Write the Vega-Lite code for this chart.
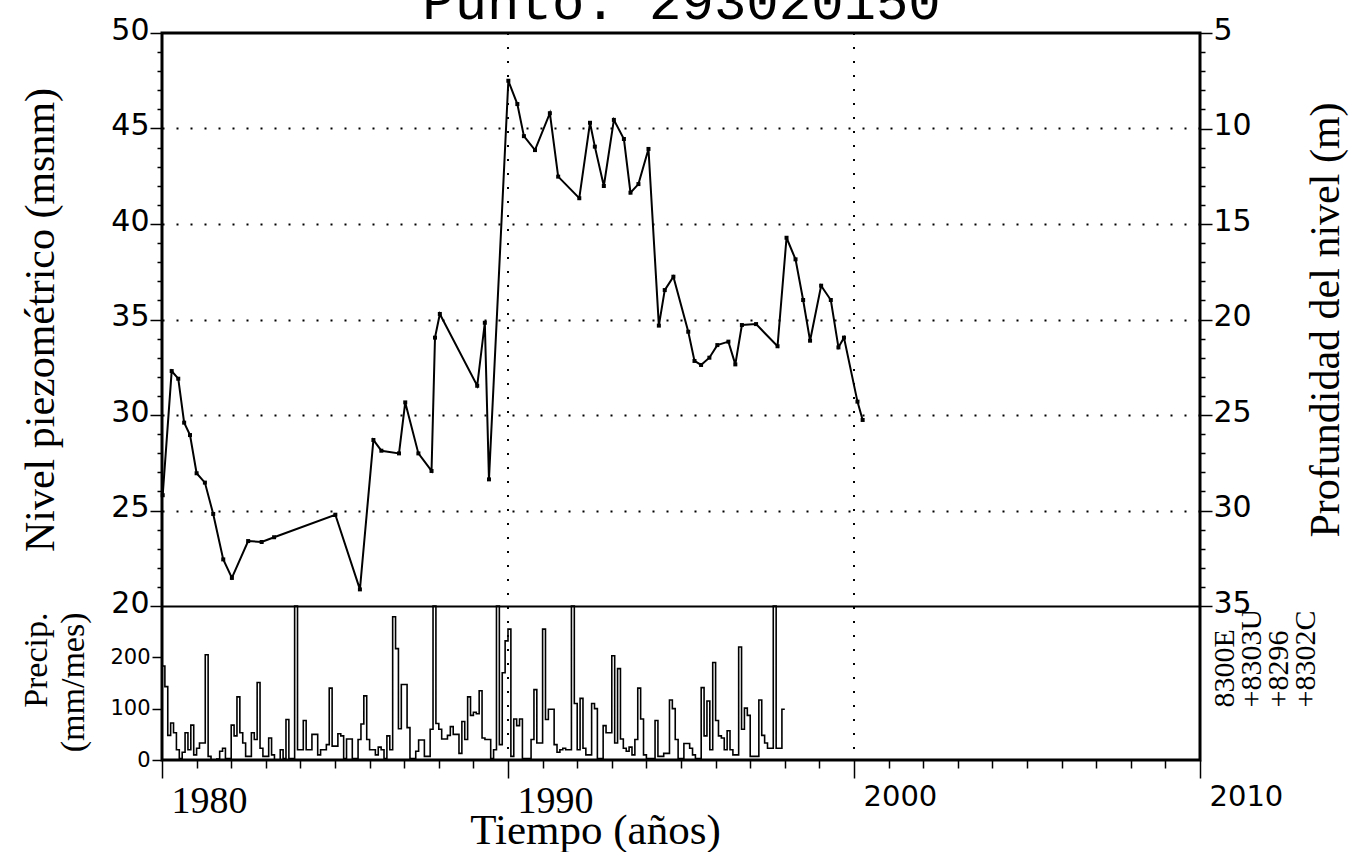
{
  "$schema": "https://vega.github.io/schema/vega-lite/v6.json",
  "width": 1038,
  "height": 727,
  "autosize": {"type": "none"},
  "padding": {"left": 162, "top": 33, "right": 152, "bottom": 92},
  "background": "white",
  "config": {
    "view": {"stroke": "black", "strokeWidth": 3},
    "axis": {"labelColor": "black", "titleColor": "black", "tickColor": "black", "tickWidth": 1.5, "titleFontWeight": "normal", "labelOverlap": false, "labelFlush": false, "domain": false}
  },
  "datasets": {
    "nivel": [
      {"t": 1980.02, "nivel": 25.8}, {"t": 1980.28, "nivel": 32.3}, {"t": 1980.47, "nivel": 31.9}, {"t": 1980.64, "nivel": 29.6},
      {"t": 1980.81, "nivel": 28.95}, {"t": 1981.0, "nivel": 26.95}, {"t": 1981.24, "nivel": 26.46}, {"t": 1981.48, "nivel": 24.82},
      {"t": 1981.77, "nivel": 22.44}, {"t": 1982.02, "nivel": 21.47}, {"t": 1982.49, "nivel": 23.4}, {"t": 1982.88, "nivel": 23.35},
      {"t": 1983.24, "nivel": 23.6}, {"t": 1985.01, "nivel": 24.78}, {"t": 1985.72, "nivel": 20.87}, {"t": 1986.11, "nivel": 28.69},
      {"t": 1986.34, "nivel": 28.13}, {"t": 1986.85, "nivel": 27.99}, {"t": 1987.03, "nivel": 30.66}, {"t": 1987.41, "nivel": 27.99},
      {"t": 1987.79, "nivel": 27.07}, {"t": 1987.89, "nivel": 34.05}, {"t": 1988.03, "nivel": 35.29}, {"t": 1989.11, "nivel": 31.53},
      {"t": 1989.33, "nivel": 34.83}, {"t": 1989.45, "nivel": 26.63}, {"t": 1990.01, "nivel": 47.5}, {"t": 1990.27, "nivel": 46.28},
      {"t": 1990.46, "nivel": 44.6}, {"t": 1990.78, "nivel": 43.87}, {"t": 1991.21, "nivel": 45.8}, {"t": 1991.45, "nivel": 42.48},
      {"t": 1992.06, "nivel": 41.35}, {"t": 1992.37, "nivel": 45.3}, {"t": 1992.51, "nivel": 44.05}, {"t": 1992.77, "nivel": 41.99},
      {"t": 1993.06, "nivel": 45.45}, {"t": 1993.35, "nivel": 44.45}, {"t": 1993.54, "nivel": 41.64}, {"t": 1993.77, "nivel": 42.09},
      {"t": 1994.06, "nivel": 43.93}, {"t": 1994.36, "nivel": 34.68}, {"t": 1994.53, "nivel": 36.54}, {"t": 1994.78, "nivel": 37.24},
      {"t": 1995.21, "nivel": 34.36}, {"t": 1995.39, "nivel": 32.83}, {"t": 1995.58, "nivel": 32.62}, {"t": 1995.82, "nivel": 33.0},
      {"t": 1996.05, "nivel": 33.66}, {"t": 1996.37, "nivel": 33.84}, {"t": 1996.57, "nivel": 32.65}, {"t": 1996.76, "nivel": 34.71},
      {"t": 1997.17, "nivel": 34.76}, {"t": 1997.79, "nivel": 33.6}, {"t": 1998.05, "nivel": 39.28}, {"t": 1998.31, "nivel": 38.15},
      {"t": 1998.53, "nivel": 36.02}, {"t": 1998.73, "nivel": 33.89}, {"t": 1999.05, "nivel": 36.77}, {"t": 1999.33, "nivel": 36.02},
      {"t": 1999.55, "nivel": 33.54}, {"t": 1999.71, "nivel": 34.05}, {"t": 2000.1, "nivel": 30.7}, {"t": 2000.25, "nivel": 29.74}
    ],
    "precip": [
      {"t": 1980.0, "p": 183}, {"t": 1980.0833, "p": 143}, {"t": 1980.1667, "p": 48}, {"t": 1980.25, "p": 72}, {"t": 1980.3333, "p": 53}, {"t": 1980.4167, "p": 20}, {"t": 1980.5, "p": 3}, {"t": 1980.5833, "p": 15}, {"t": 1980.6667, "p": 53}, {"t": 1980.75, "p": 20}, {"t": 1980.8333, "p": 68}, {"t": 1980.9167, "p": 10},
      {"t": 1981.0, "p": 23}, {"t": 1981.0833, "p": 33}, {"t": 1981.1667, "p": 33}, {"t": 1981.25, "p": 205}, {"t": 1981.3333, "p": 7}, {"t": 1981.4167, "p": 0}, {"t": 1981.5, "p": 0}, {"t": 1981.5833, "p": 2}, {"t": 1981.6667, "p": 17}, {"t": 1981.75, "p": 23}, {"t": 1981.8333, "p": 3}, {"t": 1981.9167, "p": 3},
      {"t": 1982.0, "p": 68}, {"t": 1982.0833, "p": 47}, {"t": 1982.1667, "p": 123}, {"t": 1982.25, "p": 53}, {"t": 1982.3333, "p": 33}, {"t": 1982.4167, "p": 7}, {"t": 1982.5, "p": 7}, {"t": 1982.5833, "p": 53}, {"t": 1982.6667, "p": 40}, {"t": 1982.75, "p": 151}, {"t": 1982.8333, "p": 23}, {"t": 1982.9167, "p": 7},
      {"t": 1983.0, "p": 7}, {"t": 1983.0833, "p": 43}, {"t": 1983.1667, "p": 10}, {"t": 1983.25, "p": 0}, {"t": 1983.3333, "p": 0}, {"t": 1983.4167, "p": 20}, {"t": 1983.5, "p": 3}, {"t": 1983.5833, "p": 79}, {"t": 1983.6667, "p": 3}, {"t": 1983.75, "p": 3}, {"t": 1983.8333, "p": 320}, {"t": 1983.9167, "p": 20},
      {"t": 1984.0, "p": 20}, {"t": 1984.0833, "p": 77}, {"t": 1984.1667, "p": 20}, {"t": 1984.25, "p": 20}, {"t": 1984.3333, "p": 50}, {"t": 1984.4167, "p": 50}, {"t": 1984.5, "p": 10}, {"t": 1984.5833, "p": 20}, {"t": 1984.6667, "p": 20}, {"t": 1984.75, "p": 30}, {"t": 1984.8333, "p": 140}, {"t": 1984.9167, "p": 27},
      {"t": 1985.0, "p": 27}, {"t": 1985.0833, "p": 51}, {"t": 1985.1667, "p": 47}, {"t": 1985.25, "p": 3}, {"t": 1985.3333, "p": 41}, {"t": 1985.4167, "p": 41}, {"t": 1985.5, "p": 3}, {"t": 1985.5833, "p": 3}, {"t": 1985.6667, "p": 40}, {"t": 1985.75, "p": 70}, {"t": 1985.8333, "p": 125}, {"t": 1985.9167, "p": 40},
      {"t": 1986.0, "p": 20}, {"t": 1986.0833, "p": 20}, {"t": 1986.1667, "p": 10}, {"t": 1986.25, "p": 25}, {"t": 1986.3333, "p": 20}, {"t": 1986.4167, "p": 3}, {"t": 1986.5, "p": 47}, {"t": 1986.5833, "p": 20}, {"t": 1986.6667, "p": 279}, {"t": 1986.75, "p": 217}, {"t": 1986.8333, "p": 61}, {"t": 1986.9167, "p": 147},
      {"t": 1987.0, "p": 147}, {"t": 1987.0833, "p": 63}, {"t": 1987.1667, "p": 3}, {"t": 1987.25, "p": 3}, {"t": 1987.3333, "p": 17}, {"t": 1987.4167, "p": 39}, {"t": 1987.5, "p": 39}, {"t": 1987.5833, "p": 7}, {"t": 1987.6667, "p": 7}, {"t": 1987.75, "p": 60}, {"t": 1987.8333, "p": 320}, {"t": 1987.9167, "p": 71},
      {"t": 1988.0, "p": 60}, {"t": 1988.0833, "p": 41}, {"t": 1988.1667, "p": 41}, {"t": 1988.25, "p": 48}, {"t": 1988.3333, "p": 65}, {"t": 1988.4167, "p": 50}, {"t": 1988.5, "p": 50}, {"t": 1988.5833, "p": 13}, {"t": 1988.6667, "p": 75}, {"t": 1988.75, "p": 40}, {"t": 1988.8333, "p": 123}, {"t": 1988.9167, "p": 87},
      {"t": 1989.0, "p": 93}, {"t": 1989.0833, "p": 90}, {"t": 1989.1667, "p": 135}, {"t": 1989.25, "p": 43}, {"t": 1989.3333, "p": 40}, {"t": 1989.4167, "p": 40}, {"t": 1989.5, "p": 3}, {"t": 1989.5833, "p": 20}, {"t": 1989.6667, "p": 320}, {"t": 1989.75, "p": 30}, {"t": 1989.8333, "p": 170}, {"t": 1989.9167, "p": 232},
      {"t": 1990.0, "p": 255}, {"t": 1990.0833, "p": 7}, {"t": 1990.1667, "p": 80}, {"t": 1990.25, "p": 67}, {"t": 1990.3333, "p": 80}, {"t": 1990.4167, "p": 3}, {"t": 1990.5, "p": 3}, {"t": 1990.5833, "p": 3}, {"t": 1990.6667, "p": 40}, {"t": 1990.75, "p": 137}, {"t": 1990.8333, "p": 33}, {"t": 1990.9167, "p": 33},
      {"t": 1991.0, "p": 255}, {"t": 1991.0833, "p": 79}, {"t": 1991.1667, "p": 99}, {"t": 1991.25, "p": 99}, {"t": 1991.3333, "p": 30}, {"t": 1991.4167, "p": 15}, {"t": 1991.5, "p": 20}, {"t": 1991.5833, "p": 23}, {"t": 1991.6667, "p": 20}, {"t": 1991.75, "p": 20}, {"t": 1991.8333, "p": 320}, {"t": 1991.9167, "p": 110},
      {"t": 1992.0, "p": 20}, {"t": 1992.0833, "p": 120}, {"t": 1992.1667, "p": 23}, {"t": 1992.25, "p": 10}, {"t": 1992.3333, "p": 10}, {"t": 1992.4167, "p": 110}, {"t": 1992.5, "p": 100}, {"t": 1992.5833, "p": 3}, {"t": 1992.6667, "p": 3}, {"t": 1992.75, "p": 67}, {"t": 1992.8333, "p": 53}, {"t": 1992.9167, "p": 53},
      {"t": 1993.0, "p": 203}, {"t": 1993.0833, "p": 33}, {"t": 1993.1667, "p": 178}, {"t": 1993.25, "p": 41}, {"t": 1993.3333, "p": 23}, {"t": 1993.4167, "p": 17}, {"t": 1993.5, "p": 25}, {"t": 1993.5833, "p": 10}, {"t": 1993.6667, "p": 40}, {"t": 1993.75, "p": 140}, {"t": 1993.8333, "p": 80}, {"t": 1993.9167, "p": 10},
      {"t": 1994.0, "p": 3}, {"t": 1994.0833, "p": 3}, {"t": 1994.1667, "p": 3}, {"t": 1994.25, "p": 77}, {"t": 1994.3333, "p": 7}, {"t": 1994.4167, "p": 7}, {"t": 1994.5, "p": 13}, {"t": 1994.5833, "p": 13}, {"t": 1994.6667, "p": 117}, {"t": 1994.75, "p": 100}, {"t": 1994.8333, "p": 40}, {"t": 1994.9167, "p": 3},
      {"t": 1995.0, "p": 3}, {"t": 1995.0833, "p": 32}, {"t": 1995.1667, "p": 32}, {"t": 1995.25, "p": 23}, {"t": 1995.3333, "p": 10}, {"t": 1995.4167, "p": 3}, {"t": 1995.5, "p": 3}, {"t": 1995.5833, "p": 141}, {"t": 1995.6667, "p": 47}, {"t": 1995.75, "p": 115}, {"t": 1995.8333, "p": 20}, {"t": 1995.9167, "p": 190},
      {"t": 1996.0, "p": 77}, {"t": 1996.0833, "p": 47}, {"t": 1996.1667, "p": 43}, {"t": 1996.25, "p": 20}, {"t": 1996.3333, "p": 57}, {"t": 1996.4167, "p": 20}, {"t": 1996.5, "p": 10}, {"t": 1996.5833, "p": 10}, {"t": 1996.6667, "p": 220}, {"t": 1996.75, "p": 60}, {"t": 1996.8333, "p": 101}, {"t": 1996.9167, "p": 87},
      {"t": 1997.0, "p": 7}, {"t": 1997.0833, "p": 7}, {"t": 1997.1667, "p": 7}, {"t": 1997.25, "p": 117}, {"t": 1997.3333, "p": 48}, {"t": 1997.4167, "p": 33}, {"t": 1997.5, "p": 23}, {"t": 1997.5833, "p": 23}, {"t": 1997.6667, "p": 320}, {"t": 1997.75, "p": 23}, {"t": 1997.8333, "p": 23}, {"t": 1997.9167, "p": 99},
      {"t": 1998.0, "p": 99}
    ],
    "decadas": [{"t": 1990}, {"t": 2000}]
  },
  "encoding": {
    "x": {
      "field": "t", "type": "quantitative",
      "scale": {"domain": [1980, 2010], "nice": false, "zero": false},
      "axis": {
        "orient": "bottom",
        "values": [1980,1981,1982,1983,1984,1985,1986,1987,1988,1989,1990,1991,1992,1993,1994,1995,1996,1997,1998,1999,2000,2001,2002,2003,2004,2005,2006,2007,2008,2009,2010],
        "format": "d",
        "labelExpr": "datum.value % 10 == 0 ? datum.label : ''",
        "tickSize": {"condition": {"test": "datum.value % 10 == 0", "value": 18}, "value": 8},
        "labelAlign": "left", "labelBaseline": "top", "labelOffset": 9, "labelPadding": 4,
        "labelFont": {"condition": {"test": "datum.value <= 1990", "value": "Liberation Serif"}, "value": "DejaVu Sans"},
        "labelFontSize": {"condition": {"test": "datum.value <= 1990", "value": 38}, "value": 29},
        "grid": false,
        "title": "Tiempo (años)", "titleFont": "Liberation Serif", "titleFontSize": 43,
        "titleX": 433, "titleY": 83, "titleAlign": "center", "titleBaseline": "alphabetic"
      }
    }
  },
  "layer": [
    {
      "data": {"name": "decadas"},
      "mark": {"type": "rule", "color": "black", "strokeWidth": 2, "strokeDash": [2, 12]},
      "encoding": {}
    },
    {
      "data": {"name": "nivel"},
      "mark": {"type": "line", "color": "black", "strokeWidth": 2, "point": {"shape": "square", "size": 16, "filled": true, "color": "black"}},
      "encoding": {
        "y": {
          "field": "nivel", "type": "quantitative",
          "scale": {"domain": [20, 50], "range": [573, 0], "nice": false, "zero": false},
          "axis": {
            "orient": "left",
            "values": [20,21,22,23,24,25,26,27,28,29,30,31,32,33,34,35,36,37,38,39,40,41,42,43,44,45,46,47,48,49,50],
            "labelExpr": "datum.value % 5 == 0 ? datum.label : ''",
            "tickSize": {"condition": {"test": "datum.value % 5 == 0", "value": 12}, "value": 5},
            "labelFont": "DejaVu Sans", "labelFontSize": 30, "labelPadding": 1, "labelBaseline": "middle", "labelOffset": -3,
            "grid": true, "gridColor": "black",
            "gridDash": {"condition": {"test": "datum.value == 20", "value": [1, 0]}, "value": [2, 12]},
            "gridWidth": 2,
            "gridOpacity": {"condition": {"test": "datum.value % 5 == 0 && datum.value < 50", "value": 1}, "value": 0},
            "title": "Nivel piezométrico (msnm)", "titleFont": "Liberation Serif", "titleFontSize": 42,
            "titleAngle": 270, "titleX": -122, "titleY": 286.5, "titleAlign": "center", "titleBaseline": "middle"
          }
        }
      }
    },
    {
      "data": {"name": "nivel"},
      "mark": {"type": "point", "opacity": 0},
      "encoding": {
        "y": {
          "field": "nivel", "type": "quantitative",
          "scale": {"domain": [20, 50], "range": [573, 0], "nice": false, "zero": false},
          "axis": {
            "orient": "left",
            "labels": false, "ticks": false, "grid": false,
            "title": "Punto: 293020150", "titleFont": "Liberation Mono", "titleFontSize": 54,
            "titleAngle": 0, "titleX": 519, "titleY": -15, "titleAlign": "center", "titleBaseline": "alphabetic"
          }
        }
      }
    },
    {
      "data": {"name": "nivel"},
      "mark": {"type": "point", "opacity": 0},
      "encoding": {
        "y": {
          "field": "nivel", "type": "quantitative",
          "scale": {"domain": [5, 35], "range": [0, 573], "nice": false, "zero": false},
          "axis": {
            "orient": "right",
            "values": [5,6,7,8,9,10,11,12,13,14,15,16,17,18,19,20,21,22,23,24,25,26,27,28,29,30,31,32,33,34,35],
            "labelExpr": "datum.value % 5 == 0 ? datum.label : ''",
            "tickSize": {"condition": {"test": "datum.value % 5 == 0", "value": 12}, "value": 5},
            "labelFont": "DejaVu Sans", "labelFontSize": 30, "labelPadding": 1, "labelAlign": "left", "labelBaseline": "middle", "labelOffset": -3,
            "grid": false,
            "title": "Profundidad del nivel (m)", "titleFont": "Liberation Serif", "titleFontSize": 42,
            "titleAngle": 270, "titleX": 125, "titleY": 286.5, "titleAlign": "center", "titleBaseline": "middle"
          }
        }
      }
    },
    {
      "data": {"name": "precip"},
      "mark": {"type": "line", "interpolate": "step-after", "color": "black", "strokeWidth": 1.6},
      "encoding": {
        "y": {
          "field": "p", "type": "quantitative",
          "scale": {"domain": [0, 300], "range": [727, 573], "nice": false, "clamp": true},
          "axis": {
            "orient": "left",
            "values": [0, 100, 200],
            "tickSize": 10,
            "labelFont": "DejaVu Sans", "labelFontSize": 21, "labelPadding": 2, "labelBaseline": "middle",
            "grid": false,
            "title": ["Precip.", "(mm/mes)"], "titleFont": "Liberation Serif", "titleFontSize": 34, "titleLineHeight": 37,
            "titleAngle": 270, "titleX": -126, "titleY": 579, "titleAlign": "right", "titleBaseline": "middle"
          }
        }
      }
    },
    {
      "data": {"name": "precip"},
      "mark": {"type": "point", "opacity": 0},
      "encoding": {
        "y": {
          "field": "p", "type": "quantitative",
          "scale": {"domain": [0, 300], "range": [727, 573], "nice": false, "clamp": true},
          "axis": {
            "orient": "right",
            "labels": false, "ticks": false, "grid": false,
            "title": ["\u00a0\u00a08300E", "+8303U", "+8296", "+8302C"], "titleFont": "Liberation Serif", "titleFontSize": 30, "titleLineHeight": 27,
            "titleAngle": 270, "titleX": 24, "titleY": 674, "titleAlign": "left", "titleBaseline": "middle"
          }
        }
      }
    }
  ],
  "resolve": {"scale": {"y": "independent"}, "axis": {"y": "independent"}}
}
